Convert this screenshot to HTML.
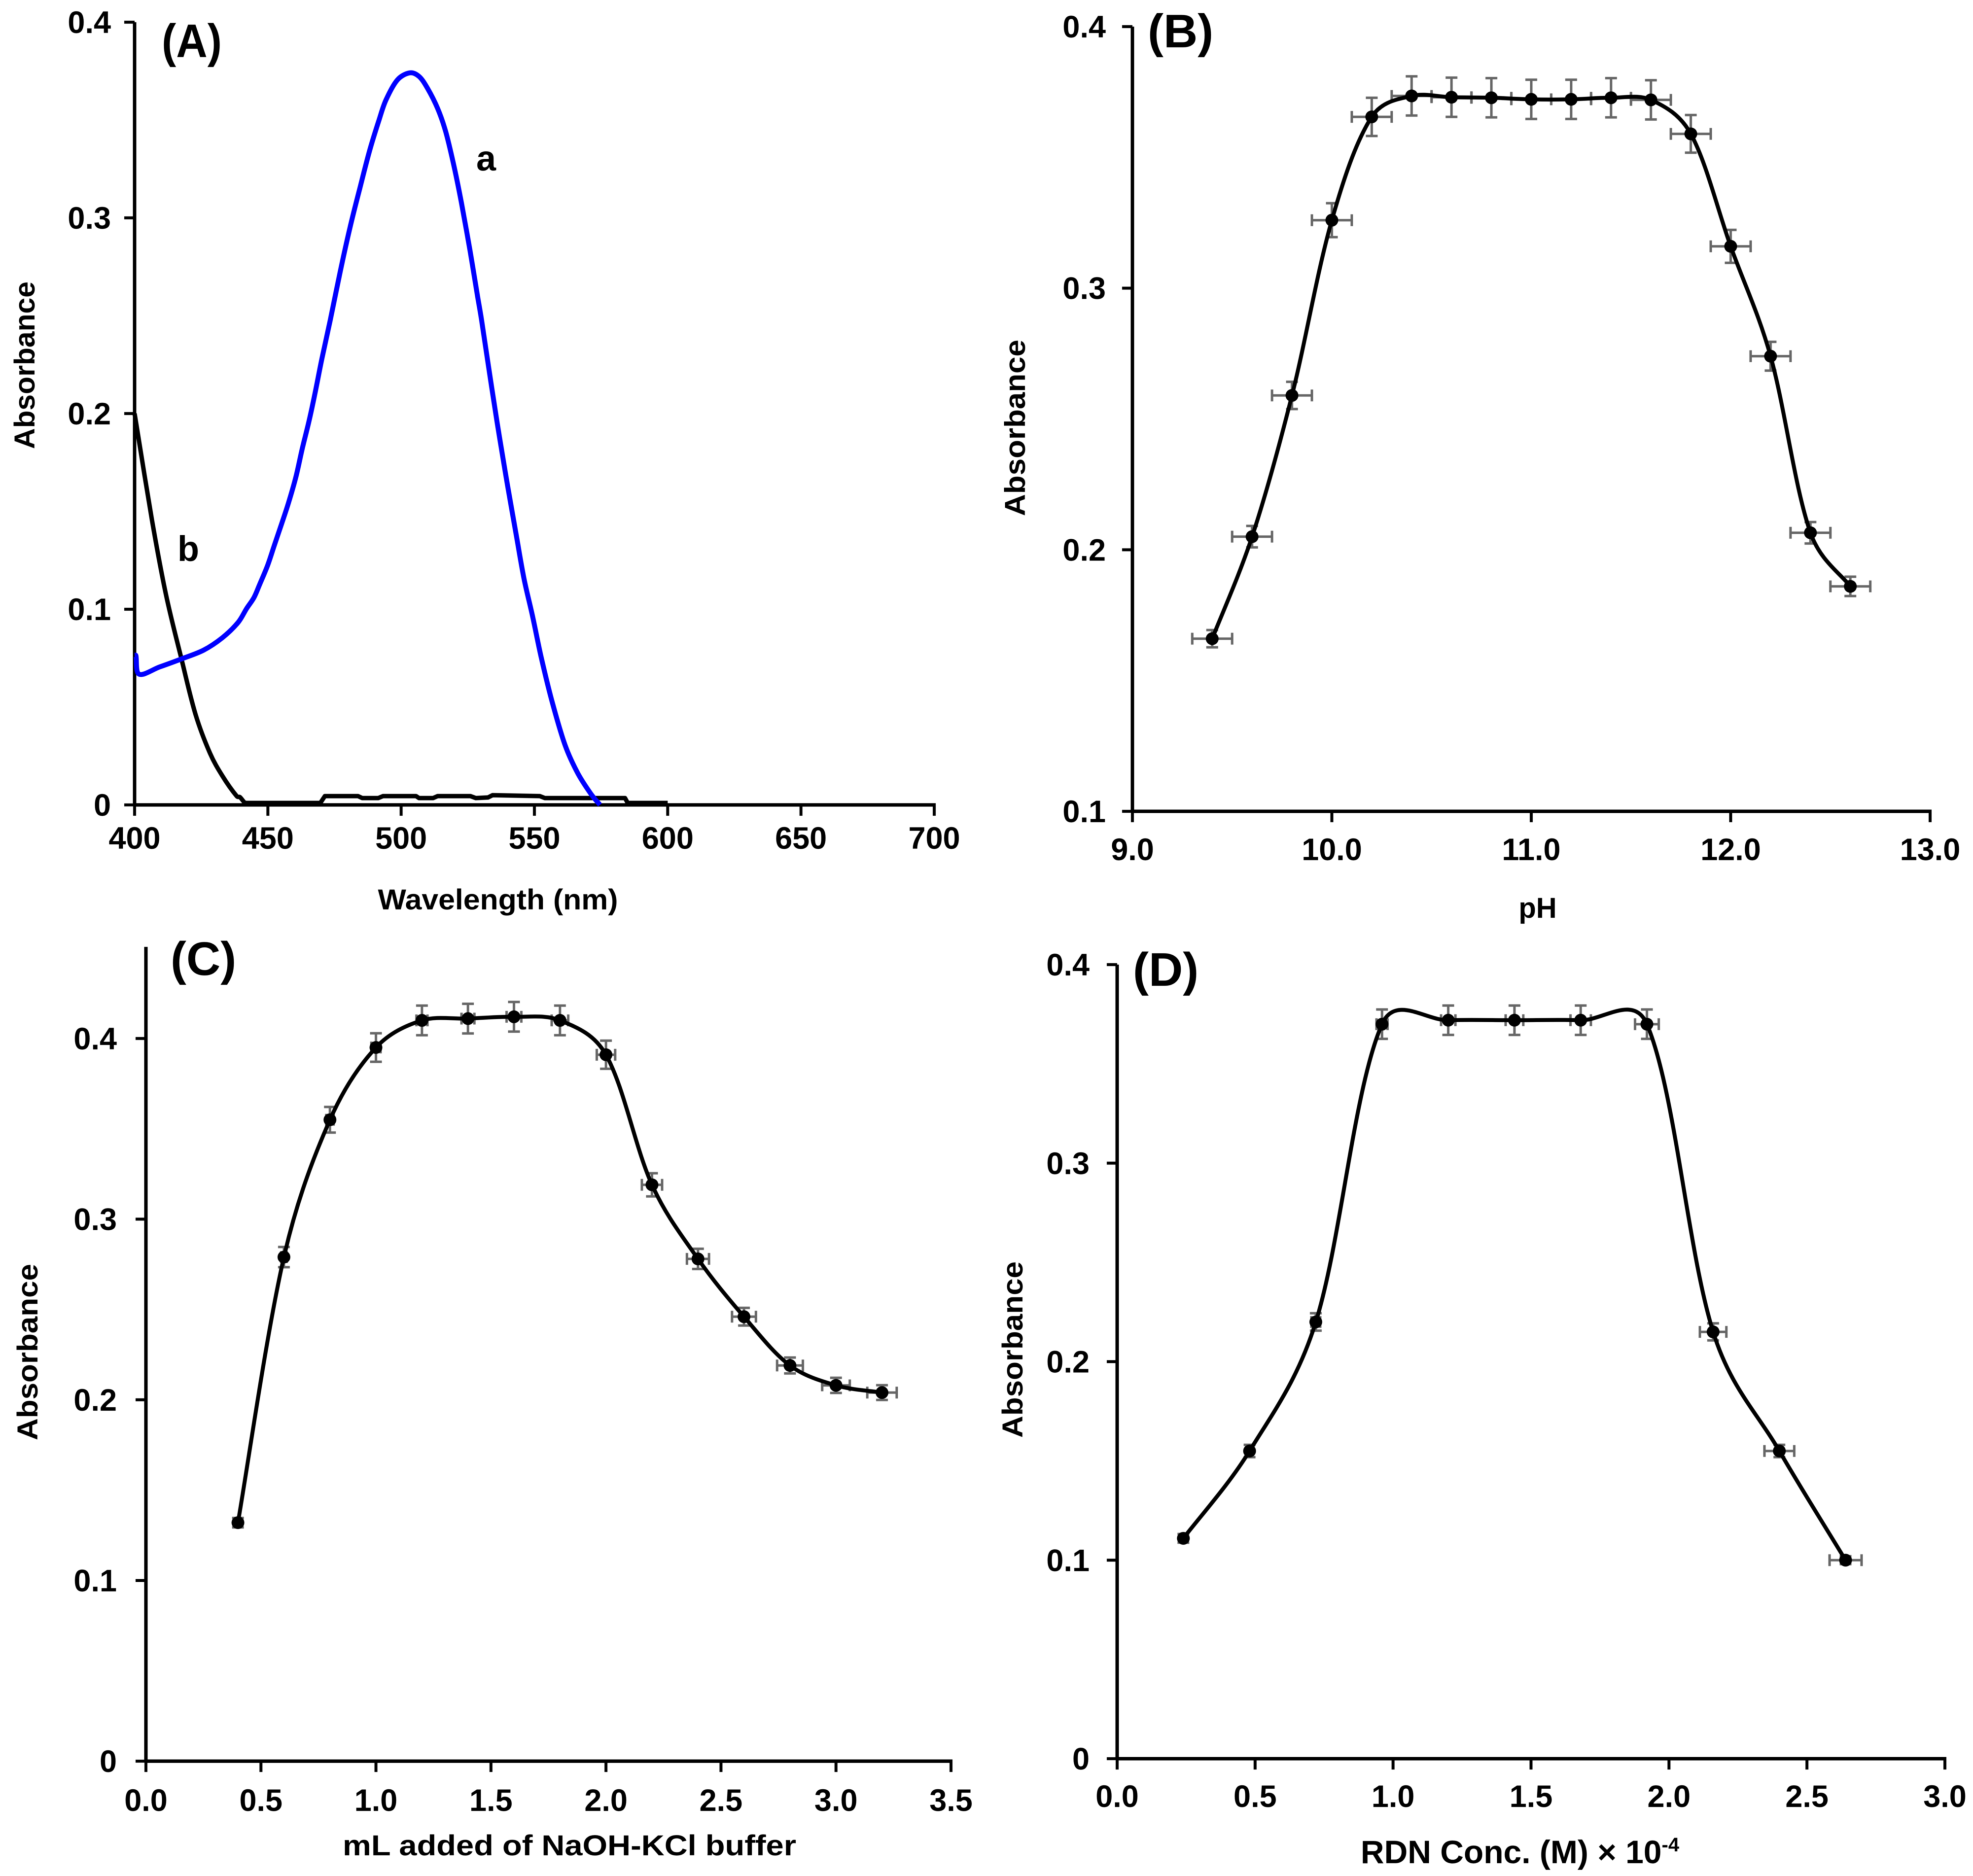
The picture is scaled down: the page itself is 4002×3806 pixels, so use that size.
<!DOCTYPE html>
<html lang="en">
<head>
<meta charset="utf-8">
<title>Absorbance charts</title>
<style>
html,body{margin:0;padding:0;background:#fff;}
svg{display:block;filter:blur(0.8px);}
text{font-family:"Liberation Sans",Arial,sans-serif;font-weight:bold;fill:#000;}
.tick{font-size:63px;}
.title{font-size:58px;}
.letter{font-size:96px;}
.curve-tag{font-size:72px;}
</style>
</head>
<body>
<svg id="figure" xmlns="http://www.w3.org/2000/svg" width="4002" height="3806" viewBox="0 0 4002 3806">
  <rect x="0" y="0" width="4002" height="3806" fill="#ffffff"/>

  <g id="panel-a">
    <text class="letter" x="328" y="116" textLength="122" lengthAdjust="spacingAndGlyphs">(A)</text>
    <text class="curve-tag" x="966" y="346">a</text>
    <text class="curve-tag" x="360" y="1138">b</text>
    <text class="title" transform="translate(70,741) rotate(-90)" text-anchor="middle" textLength="340" lengthAdjust="spacingAndGlyphs">Absorbance</text>
    <text class="title" x="1010" y="1845" text-anchor="middle" textLength="487" lengthAdjust="spacingAndGlyphs">Wavelength (nm)</text>
  </g>

  <g id="panel-b">
    <text class="letter" x="2328" y="96">(B)</text>
    <text class="title" transform="translate(2079,868) rotate(-90)" text-anchor="middle" textLength="358" lengthAdjust="spacingAndGlyphs">Absorbance</text>
    <text class="title" x="3119" y="1862" text-anchor="middle">pH</text>
  </g>

  <g id="panel-c">
    <text class="letter" x="346" y="1978">(C)</text>
    <text class="title" transform="translate(76,2743) rotate(-90)" text-anchor="middle" textLength="358" lengthAdjust="spacingAndGlyphs">Absorbance</text>
    <text class="title" x="1155" y="3764" text-anchor="middle" textLength="920" lengthAdjust="spacingAndGlyphs">mL added of NaOH-KCl buffer</text>
  </g>

  <g id="panel-d">
    <text class="letter" x="2298" y="2000">(D)</text>
    <text class="title" transform="translate(2074,2738) rotate(-90)" text-anchor="middle" textLength="358" lengthAdjust="spacingAndGlyphs">Absorbance</text>
    <text class="title" x="3083" y="3780" text-anchor="middle" style="font-size:66px">RDN Conc. (M) × 10<tspan font-size="40" dy="-24">-4</tspan></text>
  </g>
</svg>

<script>
// ---- Panel A data ----
const spectrumAWavelength = [400,400.5,401.7,409.4,417.6,425.9,432.9,438.8,442.0,444.8,446.9,449.9,452.5,454.9,457.7,460.5,462.9,465.5,467.9,470.3,473.4,477.1,480.8,484.5,488.2,491.6,494.3,498.6,503.2,506.7,509.9,513.7,516.7,519.7,522.6,525.8,528.7,530.2,533.9,536.9,540,543.2,546.1,549.3,552.6,556.8,561.6,566.3,571.1,574.6];
const spectrumAAbsorbance = [0.0763,0.0763,0.0668,0.0705,0.0746,0.0791,0.0854,0.0932,0.1003,0.106,0.1126,0.1224,0.133,0.1426,0.1542,0.1675,0.1821,0.1965,0.2118,0.2282,0.2476,0.2723,0.295,0.3151,0.3345,0.3496,0.3602,0.3705,0.3741,0.3723,0.3662,0.3559,0.3441,0.3272,0.3078,0.2836,0.2597,0.2476,0.2139,0.1879,0.1627,0.1378,0.1156,0.0965,0.0751,0.0519,0.0302,0.0161,0.0058,0];
const spectrumBWavelength = [400,406.5,411.8,417.6,422.9,428.3,432.9,438.3,439.5,441.2,442,469.7,471.4,483.8,485.4,491.4,493.2,505.6,506.7,512,513.7,526,528,532.6,534.3,552,553.9,584,585,600];
const spectrumBAbsorbance = [0.2,0.1458,0.1073,0.0745,0.0461,0.0264,0.0149,0.0045,0.004,0.0013,0.001,0.001,0.0045,0.0045,0.0035,0.0035,0.0045,0.0045,0.0035,0.0035,0.0045,0.0045,0.0035,0.0038,0.005,0.0045,0.0035,0.0035,0.001,0.001];
const panelAXTicks = [400,450,500,550,600,650,700];
const panelAXLabels = ["400","450","500","550","600","650","700"];
const panelAYTicks = [0,0.1,0.2,0.3,0.4];
const panelAYLabels = ["0","0.1","0.2","0.3","0.4"];

// ---- Panel B data ----
const phValues = [9.4,9.6,9.8,10.0,10.2,10.4,10.6,10.8,11.0,11.2,11.4,11.6,11.8,12.0,12.2,12.4,12.6];
const phAbsorbance = [0.166,0.205,0.259,0.326,0.3655,0.3735,0.373,0.3728,0.3722,0.3722,0.3728,0.372,0.359,0.316,0.274,0.2065,0.186];
const phYError = [0.0033,0.0041,0.0052,0.0065,0.0073,0.0075,0.0075,0.0075,0.0075,0.0075,0.0075,0.0075,0.0072,0.0063,0.0055,0.0041,0.0037];
const phXError = [0.1,0.1,0.1,0.1,0.1,0.1,0.1,0.1,0.1,0.1,0.1,0.1,0.1,0.1,0.1,0.1,0.1];
const panelBXTicks = [9,10,11,12,13];
const panelBXLabels = ["9.0","10.0","11.0","12.0","13.0"];
const panelBYTicks = [0.1,0.2,0.3,0.4];
const panelBYLabels = ["0.1","0.2","0.3","0.4"];

// ---- Panel C data ----
const bufferVolume = [0.4,0.6,0.8,1.0,1.2,1.4,1.6,1.8,2.0,2.2,2.4,2.6,2.8,3.0,3.2];
const bufferAbsorbance = [0.132,0.279,0.355,0.395,0.41,0.411,0.412,0.41,0.391,0.319,0.278,0.246,0.219,0.208,0.204];
const bufferYError = [0.0026,0.0056,0.0071,0.0079,0.0082,0.0082,0.0082,0.0082,0.0078,0.0064,0.0056,0.0049,0.0044,0.0042,0.0041];
const bufferXError = [0.008,0.012,0.016,0.02,0.024,0.028,0.032,0.036,0.04,0.044,0.048,0.052,0.056,0.06,0.064];
const panelCXTicks = [0,0.5,1,1.5,2,2.5,3,3.5];
const panelCXLabels = ["0.0","0.5","1.0","1.5","2.0","2.5","3.0","3.5"];
const panelCYTicks = [0,0.1,0.2,0.3,0.4];
const panelCYLabels = ["0","0.1","0.2","0.3","0.4"];

// ---- Panel D data ----
const rdnConc = [0.24,0.48,0.72,0.96,1.2,1.44,1.68,1.92,2.16,2.4,2.64];
const rdnAbsorbance = [0.111,0.155,0.22,0.37,0.372,0.372,0.372,0.37,0.215,0.155,0.1];
const rdnYError = [0.0022,0.0031,0.0044,0.0074,0.0074,0.0074,0.0074,0.0074,0.0043,0.0031,0.002];
const rdnXError = [0.006,0.012,0.016,0.02,0.026,0.032,0.037,0.043,0.048,0.054,0.058];
const panelDXTicks = [0,0.5,1,1.5,2,2.5,3];
const panelDXLabels = ["0.0","0.5","1.0","1.5","2.0","2.5","3.0"];
const panelDYTicks = [0,0.1,0.2,0.3,0.4];
const panelDYLabels = ["0","0.1","0.2","0.3","0.4"];

const SVG_NS = "http://www.w3.org/2000/svg";

function shape(parent, tag, attrs) {
  const node = document.createElementNS(SVG_NS, tag);
  for (const key in attrs) node.setAttribute(key, attrs[key]);
  parent.appendChild(node);
  return node;
}

function linearScale(d0, d1, r0, r1) {
  return function (v) { return r0 + (v - d0) * (r1 - r0) / (d1 - d0); };
}

function chord(px, py, i, j) {
  return Math.hypot(px[j] - px[i], py[j] - py[i]);
}

function smoothPath(px, py) {
  const k = 0.2357;
  let d = "M" + px[0].toFixed(1) + " " + py[0].toFixed(1);
  for (let i = 0; i < px.length - 1; i++) {
    const i0 = Math.max(i - 1, 0), i3 = Math.min(i + 2, px.length - 1);
    const d01 = chord(px, py, i0, i), d12 = chord(px, py, i, i + 1), d23 = chord(px, py, i + 1, i3);
    const f1 = k * Math.sqrt(d12 / ((d01 + d12) || 1));
    const f2 = k * Math.sqrt(d12 / ((d12 + d23) || 1));
    const c1x = px[i] + (px[i + 1] - px[i0]) * f1;
    const c1y = py[i] + (py[i + 1] - py[i0]) * f1;
    const c2x = px[i + 1] - (px[i3] - px[i]) * f2;
    const c2y = py[i + 1] - (py[i3] - py[i]) * f2;
    d += " C" + c1x.toFixed(1) + " " + c1y.toFixed(1) + " " + c2x.toFixed(1) + " " + c2y.toFixed(1) + " " + px[i + 1].toFixed(1) + " " + py[i + 1].toFixed(1);
  }
  return d;
}

function linearSegments(px, py) {
  return px.map(function (x, i) { return "L" + x.toFixed(1) + " " + py[i].toFixed(1); }).join(" ");
}

function drawAxes(panel, frame, xTicks, xLabels, yTicks, yLabels) {
  const sx = linearScale(frame.xMin, frame.xMax, frame.left, frame.right);
  const sy = linearScale(frame.yMin, frame.yMax, frame.bottom, frame.top);

  const yAxis = shape(panel, "line", { x1: frame.left, x2: frame.left, y1: frame.top, y2: frame.bottom + 3, stroke: "#000", "stroke-width": 7 });
  
  

  const xAxis = shape(panel, "line", { x1: frame.left - 3, x2: frame.right + 3, y1: frame.bottom, y2: frame.bottom, stroke: "#000", "stroke-width": 7 });
  
  

  xTicks.forEach(function (v, i) {
    const tick = shape(panel, "line", { x1: sx(v), x2: sx(v), y1: frame.bottom, y2: frame.bottom + 22, stroke: "#000", "stroke-width": 6 });
    
    

    const label = shape(panel, "text", { x: sx(v), y: frame.bottom + frame.xLabelOffset, "text-anchor": "middle", "class": "tick" });
    label.textContent = xLabels[i];
    
    
  });

  yTicks.forEach(function (v, i) {
    const tick = shape(panel, "line", { x1: frame.left - 21, x2: frame.left, y1: sy(v), y2: sy(v), stroke: "#000", "stroke-width": 6 });
    
    

    const label = shape(panel, "text", { x: frame.left - frame.yLabelGap, y: sy(v) + 22, "text-anchor": "end", "class": "tick" });
    label.textContent = yLabels[i];
    
    
  });

  return { sx: sx, sy: sy };
}

function drawErrorSeries(panel, axes, xs, ys, yErr, xErr) {
  const cap = 12;
  const errors = shape(panel, "g", { stroke: "#666", "stroke-width": 5, fill: "none" });
  
  

  xs.forEach(function (x, i) {
    const cx = axes.sx(x), cy = axes.sy(ys[i]);
    const top = axes.sy(ys[i] + yErr[i]), bottom = axes.sy(ys[i] - yErr[i]);
    const lft = axes.sx(x - xErr[i]), rgt = axes.sx(x + xErr[i]);
    const bar = shape(errors, "path", {
      d: "M" + cx + " " + top + "V" + bottom +
         "M" + (cx - cap) + " " + top + "H" + (cx + cap) +
         "M" + (cx - cap) + " " + bottom + "H" + (cx + cap) +
         "M" + lft + " " + cy + "H" + rgt +
         "M" + lft + " " + (cy - cap) + "V" + (cy + cap) +
         "M" + rgt + " " + (cy - cap) + "V" + (cy + cap)
    });
    
    
  });

  const curve = shape(panel, "path", {
    d: smoothPath(xs.map(axes.sx), ys.map(axes.sy)),
    fill: "none", stroke: "#000", "stroke-width": 8, "stroke-linejoin": "round", "stroke-linecap": "round"
  });
  
  

  xs.forEach(function (x, i) {
    const dot = shape(panel, "circle", { cx: axes.sx(x), cy: axes.sy(ys[i]), r: 13, fill: "#000" });
    
    
  });
}

// Panel A
const panelA = document.getElementById("panel-a");
const axesA = drawAxes(panelA,
  { xMin: 400, xMax: 700, yMin: 0, yMax: 0.4, left: 273, right: 1895, bottom: 1633, top: 45, xLabelOffset: 89, yLabelGap: 48 },
  panelAXTicks, panelAXLabels, panelAYTicks, panelAYLabels);

const curveBSplit = spectrumBWavelength.findIndex(function (w) { return w >= 442; }) + 1;
const curveB = shape(panelA, "path", {
  d: smoothPath(spectrumBWavelength.slice(0, curveBSplit).map(axesA.sx), spectrumBAbsorbance.slice(0, curveBSplit).map(axesA.sy)) + " " +
     linearSegments(spectrumBWavelength.slice(curveBSplit).map(axesA.sx), spectrumBAbsorbance.slice(curveBSplit).map(axesA.sy)),
  fill: "none", stroke: "#000", "stroke-width": 9, "stroke-linejoin": "round"
});



const curveA = shape(panelA, "path", {
  d: smoothPath(spectrumAWavelength.map(axesA.sx), spectrumAAbsorbance.map(axesA.sy)),
  fill: "none", stroke: "#0000ff", "stroke-width": 10, "stroke-linejoin": "round"
});



// Panel B
const panelB = document.getElementById("panel-b");
const axesB = drawAxes(panelB,
  { xMin: 9, xMax: 13, yMin: 0.1, yMax: 0.4, left: 2297, right: 3915, bottom: 1646, top: 54, xLabelOffset: 99, yLabelGap: 54 },
  panelBXTicks, panelBXLabels, panelBYTicks, panelBYLabels);
drawErrorSeries(panelB, axesB, phValues, phAbsorbance, phYError, phXError);

// Panel C
const panelC = document.getElementById("panel-c");
const axesC = drawAxes(panelC,
  { xMin: 0, xMax: 3.5, yMin: 0, yMax: 0.4507, left: 296, right: 1929, bottom: 3573, top: 1921, xLabelOffset: 101, yLabelGap: 59 },
  panelCXTicks, panelCXLabels, panelCYTicks, panelCYLabels);
drawErrorSeries(panelC, axesC, bufferVolume, bufferAbsorbance, bufferYError, bufferXError);

// Panel D
const panelD = document.getElementById("panel-d");
const axesD = drawAxes(panelD,
  { xMin: 0, xMax: 3, yMin: 0, yMax: 0.4, left: 2266, right: 3945, bottom: 3568, top: 1957, xLabelOffset: 98, yLabelGap: 56 },
  panelDXTicks, panelDXLabels, panelDYTicks, panelDYLabels);
drawErrorSeries(panelD, axesD, rdnConc, rdnAbsorbance, rdnYError, rdnXError);
</script>
</body>
</html>
